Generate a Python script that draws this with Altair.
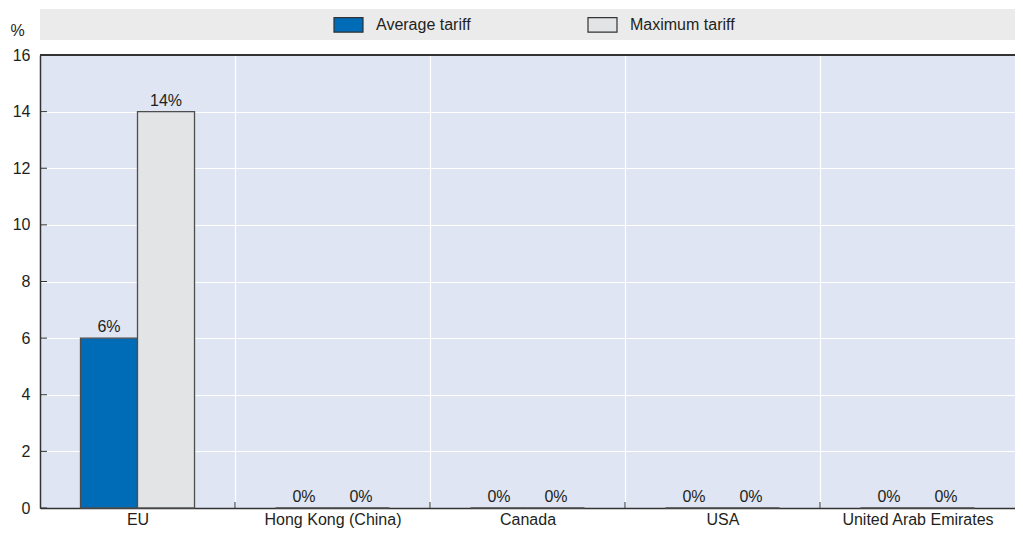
import altair as alt
import pandas as pd

countries = ["EU", "Hong Kong (China)", "Canada", "USA", "United Arab Emirates"]
average_tariff = [6, 0, 0, 0, 0]
maximum_tariff = [14, 0, 0, 0, 0]
series = ["Average tariff", "Maximum tariff"]
y_ticks = [0, 2, 4, 6, 8, 10, 12, 14, 16]

rows = []
for c, a, m in zip(countries, average_tariff, maximum_tariff):
    rows.append({"country": c, "series": series[0], "value": a})
    rows.append({"country": c, "series": series[1], "value": m})
df = pd.DataFrame(rows)
df["label"] = df["value"].map(lambda v: f"{v:g}%")

FONT = "Liberation Sans, Arial, sans-serif"
FS = 16
W = 975
H = 453
TXT = "#231f20"
AX = "#333333"
BG = "#dfe5f2"

xscale = alt.Scale(domain=countries, paddingInner=0, paddingOuter=0)
yscale = alt.Scale(domain=[0, 16], nice=False)
off_scale = alt.Scale(domain=series, paddingInner=0, paddingOuter=0.71)

one = pd.DataFrame({"k": [0]})
base = alt.Chart(df)

bars = base.mark_bar(stroke="#4d4d4d", strokeWidth=1.3).encode(
    x=alt.X("country:N", scale=xscale, sort=countries,
            axis=alt.Axis(title=None, labelAngle=0, tickBand="extent", grid=True,
                          gridColor="white", gridWidth=1.2, gridOpacity=1, ticks=False,
                          domainColor=AX, domainWidth=1.5, labelPadding=3,
                          labelFontSize=FS, labelColor=TXT, labelFont=FONT)),
    xOffset=alt.XOffset("series:N", scale=off_scale, sort=series),
    y=alt.Y("value:Q", scale=yscale,
            axis=alt.Axis(values=y_ticks, title="%", titleAngle=0, titleAlign="left",
                          titleBaseline="middle", titleX=-30, titleY=-25,
                          titleFontWeight="normal", titleFontSize=FS, titleColor=TXT,
                          titleFont=FONT, grid=True, gridColor="white", gridWidth=1.2,
                          gridOpacity=1,
                          ticks=False, domainColor=AX, domainWidth=1.5, labelPadding=10,
                          labelFontSize=FS, labelColor=TXT, labelFont=FONT)),
    color=alt.Color("series:N", sort=series,
                    scale=alt.Scale(domain=series, range=["#006bb6", "#e3e4e6"]),
                    legend=alt.Legend(title=None, orient="none", direction="horizontal",
                                      legendX=293, legendY=-46,
                                      symbolType="M-1,-0.5L1,-0.5L1,0.5L-1,0.5Z",
                                      symbolSize=841, symbolStrokeColor="#333333",
                                      symbolStrokeWidth=1.2, symbolOpacity=1,
                                      labelFontSize=FS, labelColor=TXT, labelFont=FONT,
                                      labelOffset=12, columnPadding=114)),
)

labels = base.mark_text(baseline="bottom", dy=-3, fontSize=FS, font=FONT, color=TXT).encode(
    x=alt.X("country:N", scale=xscale, sort=countries),
    xOffset=alt.XOffset("series:N", scale=off_scale, sort=series),
    y=alt.Y("value:Q", scale=yscale),
    text="label:N",
)

band_bg = alt.Chart(one).mark_rect(color="#ebebeb").encode(
    x=alt.value(0), x2=alt.value(W), y=alt.value(-46), y2=alt.value(-15)
)

top_line = alt.Chart(one).mark_rule(color=AX, strokeWidth=2).encode(
    x=alt.value(0), x2=alt.value(W), y=alt.value(0)
)

ydf = pd.DataFrame({"t": y_ticks})
yticks_in = alt.Chart(ydf).mark_rule(color=AX, strokeWidth=1).encode(
    x=alt.value(0), x2=alt.value(7), y=alt.Y("t:Q", scale=yscale)
)

xdf = pd.DataFrame({"country": countries[1:]})
xticks_in = alt.Chart(xdf).mark_rule(color=AX, strokeWidth=1).encode(
    x=alt.X("country:N", scale=xscale, sort=countries, bandPosition=0),
    y=alt.value(H), y2=alt.value(H - 6)
)

chart = alt.layer(band_bg, bars, labels, yticks_in, xticks_in, top_line).properties(
    width=W, height=H,
    padding={"left": 32, "top": 47, "right": 0, "bottom": 23},
    autosize=alt.AutoSizeParams(type="none"),
).configure(font=FONT).configure_view(stroke=None, fill=BG)

chart.save("out.html", embed_options={"renderer": "svg", "actions": False})
